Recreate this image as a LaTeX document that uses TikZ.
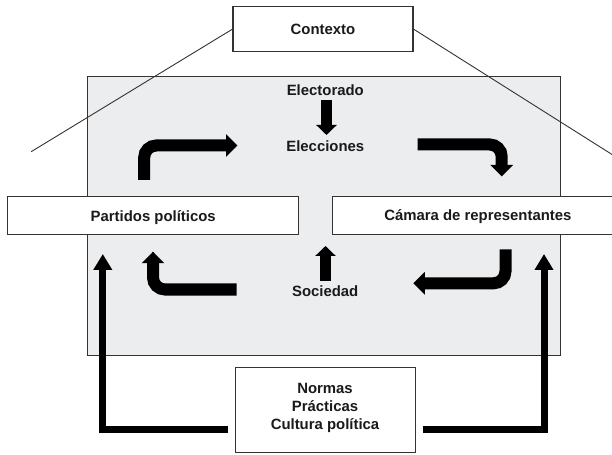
\documentclass[tikz,border=0pt]{standalone}
\usepackage{fontspec}
\setmainfont{Liberation Sans}
\usetikzlibrary{arrows.meta}
\definecolor{panel}{HTML}{ECEDEF}
\definecolor{edge}{HTML}{333333}
\definecolor{ink}{HTML}{1A1A1A}
\begin{document}
\begin{tikzpicture}[x=1bp,y=-1bp,
  lbl/.style={font=\bfseries\fontsize{14.9bp}{18bp}\selectfont, text=ink, inner sep=0pt},
  oneline/.style={lbl, text height=10.7bp, text depth=0bp},
  box/.style={oneline, draw=edge, line width=1bp, fill=white, rectangle},
  bent/.style={draw=black, line width=12bp, rounded corners=12bp, line cap=butt, -{Triangle[width=22bp,length=11.5bp]}},
  straight/.style={draw=black, line width=10.5bp, line cap=butt, -{Triangle[width=20bp,length=10bp]}},
  longarr/.style={draw=black, line width=7bp, line join=miter, line cap=butt, -{Triangle[width=18bp,length=16bp]}},
  thin/.style={draw=edge, line width=0.9bp}
]
\useasboundingbox (0,0) rectangle (612,455);
\clip (0,0) rectangle (612,455);

% grey panel
\draw[draw=edge, line width=1bp, fill=panel] (87.3,76.7) rectangle (560,355);

% context box and its lines
\node[box, minimum width=180bp, minimum height=45bp, line width=1.3bp] (ctx) at (323,29.2) {Contexto};
\coordinate (lend) at (31.2,151.7);
\coordinate (rend) at (616,157);
\draw[thin] (ctx.west) -- (lend);
\draw[thin] (ctx.east) -- (rend);

% side boxes
\node[box, minimum width=290.8bp, minimum height=38bp] (partidos) at (153.2,216) {Partidos políticos};
\node[box, minimum width=290.8bp, minimum height=38bp] (camara) at (477.9,215.5) {Cámara de representantes};

% bottom box
\node[draw=edge, line width=1bp, fill=white, rectangle, minimum width=180bp, minimum height=85.3bp] (normas) at (325,410.3) {};
\node[lbl, align=center] (normastxt) at (325,408) {Normas\\Prácticas\\Cultura política};

% inner labels
\node[oneline] (electorado) at (325.3,90) {Electorado};
\node[oneline] (elecciones) at (325.3,145.7) {Elecciones};
\node[oneline] (sociedad) at (325.2,291) {Sociedad};

% small straight arrows
\coordinate (e1) at (326.5,100);
\coordinate (e2) at (326.5,135);
\draw[straight] (e1) -- (e2);
\coordinate (s1) at (325.5,280.7);
\coordinate (s2) at (325.5,246);
\draw[straight] (s1) -- (s2);

% bent arrows
\coordinate (tl1) at (144.2,180);
\coordinate (tl2) at (237.5,145.5);
\draw[bent] (tl1) |- (tl2);
\coordinate (tr1) at (417.7,144.5);
\coordinate (tr2) at (501.7,176.5);
\draw[bent] (tr1) -| (tr2);
\coordinate (bl1) at (236.7,289.5);
\coordinate (bl2) at (153,251.7);
\draw[bent] (bl1) -| (bl2);
\coordinate (br1) at (505.5,249.3);
\coordinate (br2) at (413.3,283.3);
\draw[bent] (br1) |- (br2);

% long arrows from the bottom box
\coordinate (nl) at (228.3,429.7);
\coordinate (pl) at (102.8,254);
\draw[longarr] (nl) -| (pl);
\coordinate (nr) at (422.7,429.7);
\coordinate (cr) at (544,254);
\draw[longarr] (nr) -| (cr);
\end{tikzpicture}
\end{document}
